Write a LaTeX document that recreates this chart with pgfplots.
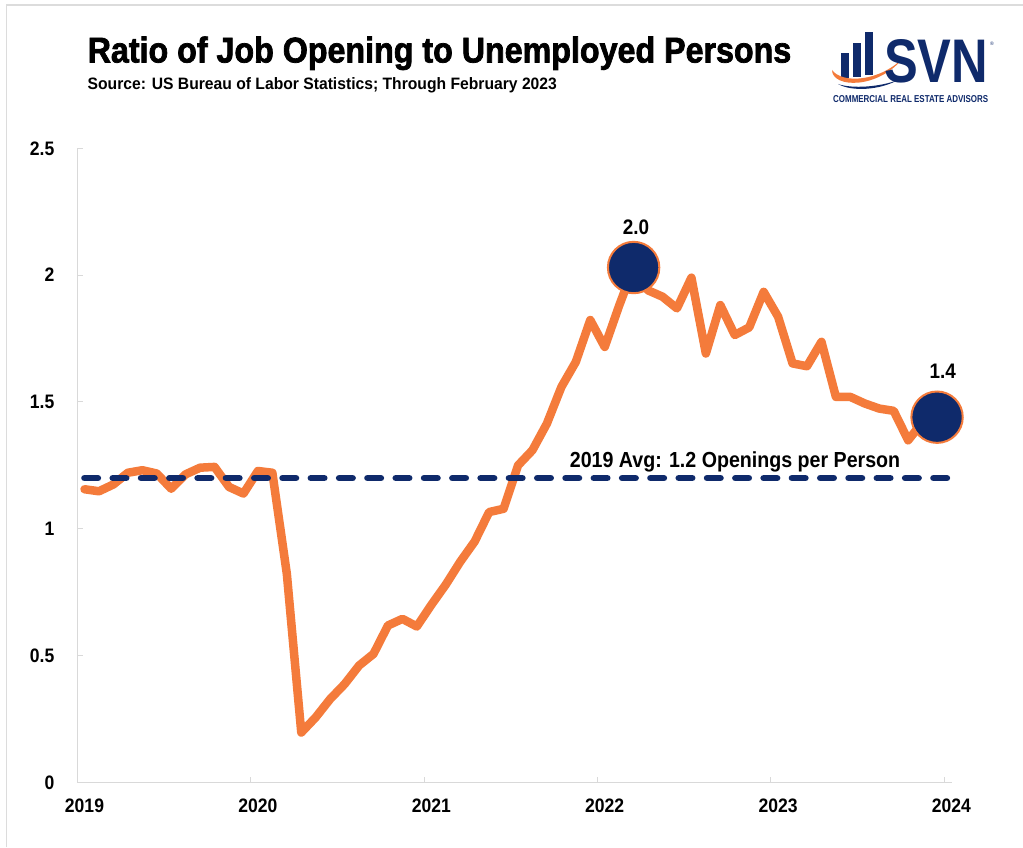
\documentclass[border=0pt]{standalone}
\usepackage{fontspec}
\setmainfont{Liberation Sans}
\newfontfamily\cond{Liberation Sans}[FakeStretch=0.9]
\newfontfamily\condsub{Liberation Sans}[FakeStretch=0.95]
\newfontfamily\titlefont{Liberation Sans}[FakeStretch=0.9, BoldFeatures={FakeBold=2}]
\usepackage{graphicx}
\usepackage{pgfplots}
\pgfplotsset{compat=1.18}

\definecolor{svnorange}{HTML}{F47B3B}
\definecolor{svnnavy}{HTML}{0F2A6B}
\definecolor{axisgray}{HTML}{D9D9D9}
\definecolor{framegray}{HTML}{DCDCDC}

% Job openings per unemployed person, monthly from January 2019
\pgfplotstableread{
i ratio
0 1.156
1 1.148
2 1.175
3 1.221
4 1.231
5 1.218
6 1.158
7 1.215
8 1.241
9 1.244
10 1.165
11 1.139
12 1.228
13 1.221
14 0.823
15 0.197
16 0.257
17 0.329
18 0.388
19 0.461
20 0.507
21 0.619
22 0.645
23 0.615
24 0.700
25 0.780
26 0.870
27 0.950
28 1.066
29 1.079
30 1.250
31 1.310
32 1.415
33 1.559
34 1.658
35 1.823
36 1.717
37 1.880
38 2.030
39 1.940
40 1.915
41 1.869
42 1.990
43 1.691
44 1.882
45 1.764
46 1.794
47 1.934
48 1.836
49 1.652
50 1.641
51 1.737
52 1.520
53 1.520
54 1.494
55 1.474
56 1.465
57 1.349
58 1.421
59 1.440
}\jobsratio

\begin{document}
\begin{tikzpicture}
\useasboundingbox (0,0) rectangle (1023pt,847pt);
\fill[white] (0,0) rectangle (1023pt,847pt);

% page furniture, laid out top-down
\begin{scope}[x=1pt,y=-1pt,shift={(0pt,847pt)}]
  \draw[framegray, line width=1.5pt] (6.7,847) -- (6.7,5) -- (1023,5);

  \node[anchor=base west, inner sep=0pt]
    at (87.5,62.5) {\titlefont\bfseries\fontsize{35.8pt}{40pt}\selectfont Ratio of Job Opening to Unemployed Persons};
  \node[anchor=base west, inner sep=0pt]
    at (87.5,90) {\condsub\bfseries\fontsize{16.5pt}{19pt}\selectfont Source: US Bureau of Labor Statistics; Through February 2023};

  % SVN logo
  \fill[svnnavy] (841,78) rectangle (849,53);
  \fill[svnnavy] (853,77) rectangle (861,43);
  \fill[svnnavy] (865,75) rectangle (873,32);
  \fill[svnorange] (832,70) .. controls (832,88) and (878,90) .. (904,57)
                   .. controls (880,82) and (842,84) .. cycle;
  \fill[svnnavy] (838,84) .. controls (852,92) and (880,90) .. (898,80)
                 .. controls (880,87) and (852,89) .. cycle;
  \node[anchor=south west, inner sep=0pt, text=svnnavy] at (884,83)
    {\resizebox{104pt}{43pt}{\bfseries SVN}};
  \node[anchor=south west, inner sep=0pt, text=svnnavy] at (990,46)
    {\fontsize{5pt}{5pt}\selectfont\textregistered};
  \node[anchor=south west, inner sep=0pt, text=svnnavy] at (833,103)
    {\resizebox{155pt}{7pt}{\bfseries COMMERCIAL REAL ESTATE ADVISORS}};
\end{scope}

\begin{axis}[
  at={(77.3pt,64.5pt)}, anchor=south west,
  scale only axis, width=874.2pt, height=634.2pt,
  xmin=-0.5, xmax=60, ymin=0, ymax=2.5,
  axis x line*=bottom, axis y line*=left,
  axis line style={axisgray, line width=1.6pt, -},
  xtick={-0.5,11.5,23.5,35.5,47.5,59.5},
  xticklabels={2019,2020,2021,2022,2023,2024},
  xticklabel style={anchor=north, inner sep=0pt, xshift=7.2pt, yshift=-16.5pt},
  ytick={0,0.5,1,1.5,2,2.5},
  yticklabels={0,0.5,1,1.5,2,2.5},
  yticklabel style={anchor=east, inner sep=0pt, xshift=-22.8pt},
  tick style={axisgray, line width=1pt},
  tick align=inside, major tick length=6pt,
  ticklabel style={font=\cond\bfseries\fontsize{19.5pt}{21pt}\selectfont},
  clip=false,
]
  \addplot[svnorange, line width=8.5pt, line join=round, line cap=round]
    table[x=i, y=ratio] {\jobsratio};
  \addplot[svnnavy, line width=6.7pt, line cap=round, dash pattern=on 13.3pt off 15pt]
    coordinates {(0,1.2) (59.9,1.2)};
  \addplot[only marks, mark=*, mark size=25.7pt,
           mark options={fill=svnnavy, draw=svnorange, line width=2pt}]
    coordinates {(38,2.03) (59,1.44)};

  \node[anchor=center, inner sep=0pt, font=\cond\bfseries\fontsize{21pt}{23pt}\selectfont]
    at (axis cs:38.17,2.19) {2.0};
  \node[anchor=center, inner sep=0pt, font=\cond\bfseries\fontsize{21pt}{23pt}\selectfont]
    at (axis cs:59.4,1.623) {1.4};
  \node[anchor=base, inner sep=0pt, font=\cond\bfseries\fontsize{21.8pt}{24pt}\selectfont]
    at (axis cs:45.02,1.2424) {2019 Avg: 1.2 Openings per Person};
\end{axis}
\end{tikzpicture}
\end{document}
